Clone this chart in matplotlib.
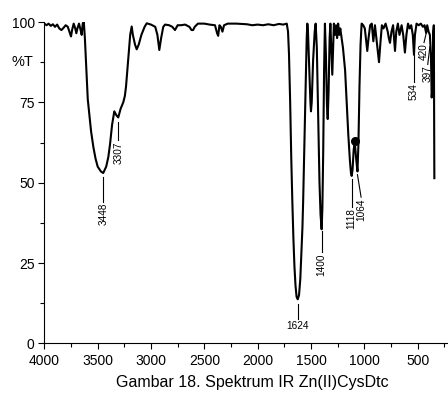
import numpy as np
import matplotlib
matplotlib.use("Agg")
import matplotlib.pyplot as plt
from matplotlib.ticker import MultipleLocator
import matplotlib.transforms as mtransforms

plt.rcParams['font.family'] = ['Liberation Sans', 'DejaVu Sans']

# spektrum IR Zn(II)CysDtc: (bilangan gelombang, %T)
spektrum = [
    (4000, 99.5), (3980, 99.0), (3960, 99.5), (3940, 98.8), (3920, 99.3),
    (3900, 98.5), (3880, 99.2), (3860, 98.0), (3840, 97.5), (3820, 98.2),
    (3800, 99.0), (3780, 98.5), (3760, 96.5), (3750, 95.5), (3740, 97.5),
    (3725, 99.5), (3710, 98.0), (3700, 96.5), (3690, 98.0), (3675, 99.5),
    (3660, 97.5), (3650, 96.0), (3640, 99.5), (3630, 100), (3620, 95),
    (3593, 76), (3562, 66), (3540, 61), (3520, 57.5), (3500, 55),
    (3470, 53.5), (3448, 53.0), (3420, 55), (3400, 58), (3384, 62),
    (3365, 68), (3344, 72.2), (3325, 71), (3307, 70.3), (3285, 73),
    (3260, 75), (3245, 77), (3234, 80), (3215, 88), (3195, 96),
    (3181, 98.6), (3170, 96), (3150, 93), (3134, 91.5), (3115, 93),
    (3090, 96), (3060, 98.5), (3040, 99.6), (3000, 99.2), (2960, 98.5),
    (2940, 96), (2922, 91.3), (2905, 95), (2885, 98.5), (2868, 99.2),
    (2830, 99), (2800, 98.5), (2775, 97.5), (2750, 99), (2720, 99),
    (2680, 99.2), (2640, 98.5), (2620, 97.5), (2605, 97.5), (2590, 98.5),
    (2560, 99.5), (2500, 99.5), (2450, 99.2), (2400, 99.0), (2380, 96.5),
    (2370, 95.7), (2358, 99), (2345, 98.5), (2330, 97), (2315, 99),
    (2280, 99.5), (2200, 99.5), (2100, 99.3), (2050, 99.0), (2000, 99.2),
    (1950, 99.0), (1900, 99.3), (1850, 99.0), (1800, 99.4), (1760, 99.2),
    (1727, 99.5), (1715, 97), (1706, 90), (1695, 75), (1685, 58),
    (1675, 44.6), (1665, 33), (1655, 24), (1645, 18), (1635, 14.5),
    (1624, 13.7), (1612, 15), (1600, 20), (1590, 28), (1580, 36),
    (1573, 44.6), (1560, 65), (1550, 82), (1540, 95), (1534, 99.5),
    (1528, 97), (1515, 85), (1505, 75), (1500, 72.2), (1493, 75),
    (1480, 88), (1465, 97), (1456, 99.5), (1445, 92), (1432, 70),
    (1420, 50), (1410, 40), (1400, 35.5), (1393, 42), (1385, 60),
    (1377, 85), (1369, 99.5), (1360, 90), (1350, 74), (1343, 69.8),
    (1335, 78), (1325, 95), (1318, 99.5), (1310, 92), (1300, 83.6),
    (1292, 92), (1285, 99.5), (1275, 96), (1265, 99), (1255, 95),
    (1245, 99.5), (1235, 96), (1225, 98), (1212, 95), (1200, 92),
    (1180, 85), (1165, 75), (1150, 65), (1135, 57), (1125, 53),
    (1118, 52.1), (1110, 54), (1100, 60), (1090, 63), (1075, 57),
    (1064, 53.5), (1055, 62), (1045, 80), (1035, 93), (1025, 99.5),
    (1010, 99), (995, 98), (985, 95), (972, 91), (960, 95),
    (945, 99), (930, 99.5), (915, 94), (900, 99), (880, 93),
    (862, 87.5), (850, 93), (835, 99), (820, 98), (800, 99.5),
    (780, 97), (770, 95), (759, 93.5), (745, 97), (730, 99),
    (712, 91), (700, 97), (685, 99.5), (670, 96), (650, 99),
    (635, 96), (619, 90.5), (605, 96), (590, 99.5), (575, 98),
    (560, 99), (545, 96), (534, 89.8), (525, 96), (510, 99.5),
    (490, 99), (470, 99.5), (450, 98.5), (435, 99), (420, 96.6),
    (410, 99), (397, 97), (385, 96), (375, 90), (368, 76.5),
    (360, 80), (353, 97), (348, 99), (343, 51.4),
]
wn = [p[0] for p in spektrum]
trans = [p[1] for p in spektrum]

dot_wn = 1090
dot_t = 63

# label puncak: (teks, x garis, y atas garis, x ujung, y ujung)
labels = [("3448", 3448, 51.8, 3448, 44.0),
          ("3307", 3307, 68.8, 3307, 63.2),
          ("1400", 1400, 35.0, 1400, 28.4),
          ("1118", 1118, 51.0, 1118, 42.5),
          ("1064", 1064, 52.5, 1030, 45.5),
          ("534", 534, 90.0, 534, 81.2),
          ("420", 412, 97.5, 440, 93.6),
          ("397", 385, 92.3, 405, 86.8)]

fig = plt.figure(figsize=(4.48, 3.96), dpi=100)
ax = fig.add_axes([0.099, 0.133, 0.901, 0.8114])

ax.plot(wn, trans, color='black', lw=1.5)
ax.plot(dot_wn, dot_t, 'o', color='black', ms=5.5)

for txt, x0, y0, x1, y1 in labels:
    ax.plot([x0, x1], [y0, y1], color='black', lw=0.8)
    ax.text(x1, y1 - 0.3, txt, rotation=90, ha='center', va='top', fontsize=7.2)

ax.plot([1624, 1624], [12.3, 7.6], color='black', lw=0.8)
ax.text(1624, 7.0, "1624", ha='center', va='top', fontsize=7.2)

ax.set_xlim(4000, 215)
ax.set_ylim(0, 100)
ax.spines['top'].set_visible(False)
ax.spines['right'].set_visible(False)
ax.xaxis.set_major_locator(MultipleLocator(500))
ax.xaxis.set_minor_locator(MultipleLocator(250))
ax.yaxis.set_major_locator(MultipleLocator(25))
ax.yaxis.set_minor_locator(MultipleLocator(12.5))
ax.tick_params(which='major', length=4.5, width=0.8, labelsize=10, pad=2.5)
ax.tick_params(which='minor', length=3, width=0.8)
ax.tick_params(axis='x', which='major', pad=3.5)

tr = mtransforms.blended_transform_factory(ax.transAxes, ax.transData)
ax.text(-0.027, 87.5, "%T", transform=tr, ha='right', va='center', fontsize=10.5)

fig.text(0.5625, 0.033, "Gambar 18. Spektrum IR Zn(II)CysDtc", ha='center', va='center', fontsize=11.5)

fig.savefig("out.png", dpi=100)
